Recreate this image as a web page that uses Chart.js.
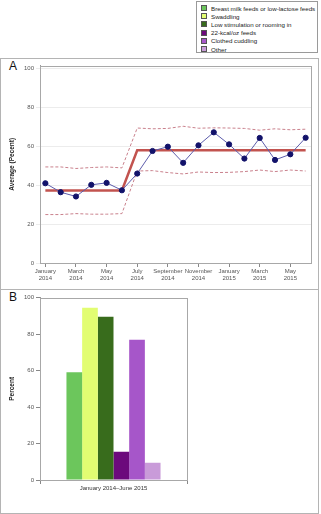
<!DOCTYPE html>
<html>
<head>
<meta charset="utf-8">
<script src="https://cdn.jsdelivr.net/npm/chart.js@4/dist/chart.umd.min.js"></script>
<style>
  body { margin: 0; background: #fff; font-family: "Liberation Sans", Arial, sans-serif; }
  .panel { position: absolute; left: 0; width: 317px; border: 1px solid #b4b4b4; }
  .letter { position: absolute; left: 9px; font-size: 12px; color: #111; }
  #legend { position: absolute; left: 196px; top: 1px; width: 122px; height: 52px; border: 1px solid #9a9a9a; font-size: 6.2px; color: #222; padding-top: 2px; box-sizing: border-box; }
  #legend div { display: flex; align-items: center; height: 8.2px; white-space: nowrap; }
  #legend span { flex: none; width: 4px; height: 4px; border: 1px solid #555; margin: 0 4px 0 4px; }
  canvas { position: absolute; }
</style>
</head>
<body>
<div id="legend"></div>
<div class="panel" style="top:58px;height:230px"></div>
<div class="panel" style="top:289px;height:223px"></div>
<div class="letter" style="top:59px">A</div>
<div class="letter" style="top:290px">B</div>
<canvas id="chartA" style="left:2px;top:60px" width="315" height="227"></canvas>
<canvas id="chartB" style="left:2px;top:292px" width="315" height="219"></canvas>
<script>
const tickLabels = [['January', '2014'], ['March', '2014'], ['May', '2014'], ['July', '2014'], ['September', '2014'],
  ['November', '2014'], ['January', '2015'], ['March', '2015'], ['May', '2015']];

const averages = [41, 36.4, 34.2, 40.2, 41.2, 37.4, 46, 57.6, 59.8, 51.5, 60.5, 67.2, 61, 53.7, 64.3, 53, 55.9, 64.4];
const centerLine = [37.3, 37.3, 37.3, 37.3, 37.3, 37.3, 58, 58, 58, 58, 58, 58, 58, 58, 58, 58, 58, 58];
const upperLimit = [49.4, 49.4, 48.6, 49.1, 49.4, 48.9, 69.4, 69, 69.2, 70.3, 69.3, 69.5, 69.4, 69.2, 68.3, 69, 68.5, 68.8];
const lowerLimit = [24.9, 24.9, 25.4, 25.1, 25.1, 25.4, 47.3, 47.5, 46.5, 45.8, 46.8, 46.5, 46.6, 47, 47.8, 47, 47.8, 47.3];

const periodLabel = ['January 2014\u2013June 2015'];
const interventions = ['Breast milk feeds or low-lactose feeds', 'Swaddling', 'Low stimulation or rooming in',
  '22-kcal/oz feeds', 'Clothed cuddling', 'Other'];
const percents = [59.1, 94.5, 89.5, 15.5, 76.9, 9.5];
const barColors = ['#6cc65c', '#e2fd72', '#386c1c', '#6c0a7c', '#a656c9', '#c99bd9'];

const tickFont = { family: '"Liberation Sans", Arial, sans-serif', size: 6 };
const titleFont = { family: '"Liberation Sans", Arial, sans-serif', size: 6.5, weight: 'bold' };

const framePlugin = {
  id: 'frame',
  afterDraw(chart) {
    const { ctx, chartArea: a } = chart;
    ctx.save();
    ctx.strokeStyle = '#a8a8a8';
    ctx.lineWidth = 1;
    ctx.strokeRect(Math.round(a.left) + 0.5, Math.round(a.top) + 0.5, Math.round(a.right - a.left), Math.round(a.bottom - a.top));
    ctx.restore();
  }
};

const toXY = arr => arr.map((v, i) => ({ x: i, y: v }));

new Chart(document.getElementById('chartA'), {
  type: 'line',
  data: {
    datasets: [
      { data: toXY(averages), borderColor: '#5c5cab', borderWidth: 1, pointRadius: 2.6,
        pointBackgroundColor: '#12126a', pointBorderColor: '#12126a', tension: 0 },
      { data: toXY(centerLine), borderColor: '#c2534f', borderWidth: 2.5, pointRadius: 0, tension: 0 },
      { data: toXY(upperLimit), borderColor: '#c9808c', borderWidth: 1, borderDash: [3, 2], pointRadius: 0, tension: 0 },
      { data: toXY(lowerLimit), borderColor: '#c9808c', borderWidth: 1, borderDash: [3, 2], pointRadius: 0, tension: 0 }
    ]
  },
  options: {
    responsive: false,
    animation: false,
    layout: { padding: { top: 3, right: 6, left: 0, bottom: 0 } },
    plugins: { legend: { display: false }, tooltip: { enabled: false } },
    scales: {
      x: {
        type: 'linear', min: -0.35, max: 17.35,
        afterFit(scale) { scale.height = 24; },
        grid: { drawOnChartArea: false, tickLength: 4, color: '#888' },
        border: { color: '#999' },
        ticks: {
          stepSize: 2, includeBounds: false, autoSkip: false, maxRotation: 0, padding: 1,
          color: '#555', font: tickFont,
          callback: v => Number.isInteger(v / 2) ? tickLabels[v / 2] : ''
        }
      },
      y: {
        min: 0, max: 101.5,
        afterFit(scale) { scale.width = 38; },
        grid: { color: '#ececec', tickLength: 4 },
        border: { color: '#999' },
        ticks: { stepSize: 20, includeBounds: false, padding: 2, color: '#555', font: tickFont },
        title: { display: true, text: 'Average (Pecent)', color: '#222', font: titleFont, padding: { top: 6, bottom: 0 } }
      }
    }
  },
  plugins: [framePlugin]
});

const chartB = new Chart(document.getElementById('chartB'), {
  type: 'bar',
  data: {
    labels: periodLabel,
    datasets: interventions.map((name, i) => ({
      label: name, data: [percents[i]], backgroundColor: barColors[i], borderWidth: 0
    }))
  },
  options: {
    responsive: false,
    animation: false,
    barPercentage: 1,
    categoryPercentage: 0.64,
    layout: { padding: { top: 5, right: 130, left: 0, bottom: 17 } },
    plugins: { legend: { display: false }, tooltip: { enabled: false } },
    scales: {
      x: {
        afterFit(scale) { scale.height = 14; },
        grid: { drawOnChartArea: false, tickLength: 4, color: '#888' },
        border: { color: '#999' },
        ticks: { padding: 1, color: '#333', font: tickFont }
      },
      y: {
        min: 0, max: 100,
        afterFit(scale) { scale.width = 38; },
        grid: { drawOnChartArea: false, tickLength: 4, color: '#888' },
        border: { color: '#999' },
        ticks: { stepSize: 20, padding: 2, color: '#555', font: tickFont },
        title: { display: true, text: 'Percent', color: '#222', font: titleFont, padding: { top: 6, bottom: 0 } }
      }
    }
  },
  plugins: [framePlugin]
});

// legend for the bar chart, drawn at the top right of the page
document.getElementById('legend').innerHTML = chartB.data.datasets
  .map(d => `<div><span style="background:${d.backgroundColor}"></span>${d.label}</div>`).join('');
</script>
</body>
</html>
